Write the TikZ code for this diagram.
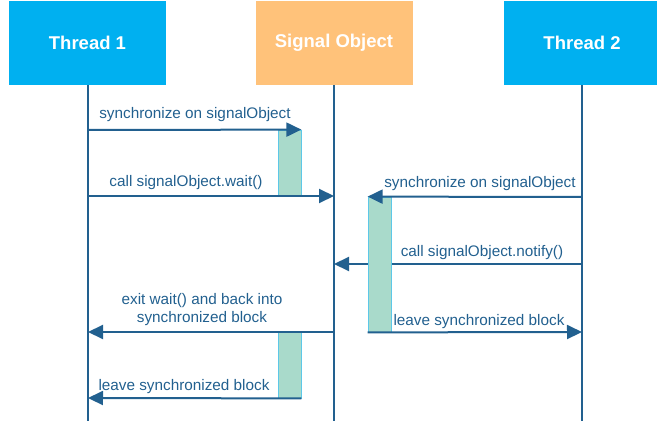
\documentclass[tikz,border=0pt]{standalone}
\usepackage{fontspec}
\setmainfont{Liberation Sans}
\usetikzlibrary{arrows.meta}
\definecolor{headblue}{HTML}{00B0F0}
\definecolor{headorange}{HTML}{FFC27A}
\definecolor{ink}{HTML}{22608F}
\definecolor{barfill}{HTML}{A9DACB}
\definecolor{barline}{HTML}{5CC8E8}
\tikzset{
  head/.style={minimum width=157pt, minimum height=84pt, inner sep=0pt, text=white,
    font=\fontsize{18.5}{21}\selectfont\bfseries},
  life/.style={draw=ink, line width=1.6pt},
  msg/.style={draw=ink, line width=2pt, -{Triangle[length=15pt,width=14pt]}},
  actbar/.style={draw=barline, line width=0.8pt, fill=barfill, minimum width=23pt, inner sep=0pt},
  lbl/.style={text=ink, font=\fontsize{15.3}{18}\selectfont, inner sep=0pt, align=center}
}
\begin{document}
\begin{tikzpicture}[x=1pt,y=-1pt]
\useasboundingbox (0,0) rectangle (657,425);
\begin{scope}
\clip (0,0) rectangle (657,425);
% heads
\node[head, fill=headblue] (t1) at (87.5,43) {Thread 1};
\node[head, fill=headorange] (so) at (334,43) {Signal Object};
\node[head, fill=headblue] (t2) at (582,43) {Thread 2};
\end{scope}
% lifeline ends
\coordinate (t1e) at (88,421);
\coordinate (soe) at (334,421);
\coordinate (t2e) at (582,421);
\draw[life] (t1.south -| t1e) -- (t1e);
\draw[life] (so.south) -- (soe);
\draw[life] (t2.south -| t2e) -- (t2e);
% message anchor points on lifelines
\coordinate (a1) at (88,130);
\coordinate (a2) at (88,196);
\coordinate (s2) at (334,196);
\coordinate (b3) at (582,197);
\coordinate (b4) at (582,264);
\coordinate (s4) at (334,264);
\coordinate (s5) at (334,332);
\coordinate (a5) at (88,332);
\coordinate (b6) at (582,332);
\coordinate (a7) at (88,398);
% message passing behind the bar
\draw[msg] (b4) -- (s4);
% activation bars
\node[actbar, minimum height=66pt] (bar1) at (289.5,163) {};
\node[actbar, minimum height=135pt] (bar2) at (379.5,264.5) {};
\node[actbar, minimum height=66pt] (bar3) at (289.5,365) {};
% messages
\draw[msg] (a1) -- (bar1.north east);
\draw[msg] (a2) -- (s2);
\draw[msg] (b3) -- (bar2.north west);
\draw[msg] (s5) -- (a5);
\draw[msg] (bar2.south west) -- (b6);
\draw[msg] (bar3.south east) -- (a7);
% labels
\node[lbl] (l1) at (195,115) {synchronize on signalObject};
\node[lbl] (l2) at (186,183) {call signalObject.wait()};
\node[lbl] (l3) at (480,184) {synchronize on signalObject};
\node[lbl] (l4) at (482,253) {call signalObject.notify()};
\node[lbl] (l5) at (202,310) {exit wait() and back into\\synchronized block};
\node[lbl] (l6) at (479,322) {leave synchronized block};
\node[lbl] (l7) at (184,387) {leave synchronized block};
\end{tikzpicture}
\end{document}
